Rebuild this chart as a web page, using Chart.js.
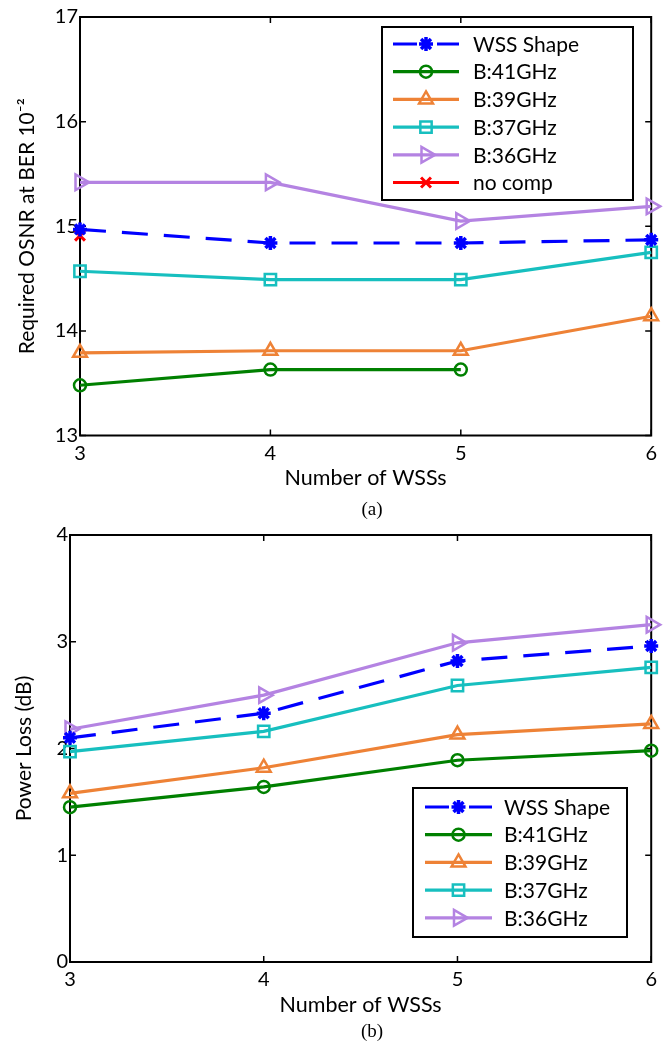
<!DOCTYPE html>
<html><head><meta charset="utf-8">
<script src="https://cdn.jsdelivr.net/npm/chart.js@4.4.1/dist/chart.umd.min.js"></script>
<style>
html,body{margin:0;padding:0;background:#fff;}
#wrap{position:relative;width:663px;height:1044px;overflow:hidden;}
canvas{position:absolute;left:0;}
.cap{position:absolute;font-family:"Liberation Serif","Times New Roman",serif;font-size:19px;color:#000;transform:translateX(-50%);line-height:1;}
</style></head><body>
<div id="wrap">
<canvas id="c1" width="663" height="520" style="top:0"></canvas>
<canvas id="c2" width="663" height="524" style="top:520px"></canvas>
<div class="cap" style="left:372px;top:499px">(a)</div>
<div class="cap" style="left:372px;top:1021px">(b)</div>
</div>
<script>
// ---------- data ----------
const wssCounts = ['3', '4', '5', '6'];
const seriesNames = ['WSS Shape', 'B:41GHz', 'B:39GHz', 'B:37GHz', 'B:36GHz', 'no comp'];

const osnrYTicks = [13, 14, 15, 16, 17];
const osnrWssShape = [14.97, 14.84, 14.84, 14.87];
const osnrB41 = [13.48, 13.63, 13.63, null];
const osnrB39 = [13.79, 13.81, 13.81, 14.14];
const osnrB37 = [14.57, 14.49, 14.49, 14.75];
const osnrB36 = [15.42, 15.42, 15.05, 15.19];
const osnrNoComp = [14.91, null, null, null];

const lossYTicks = [0, 1, 2, 3, 4];
const lossWssShape = [2.10, 2.33, 2.82, 2.96];
const lossB41 = [1.45, 1.64, 1.89, 1.98];
const lossB39 = [1.58, 1.82, 2.13, 2.23];
const lossB37 = [1.97, 2.16, 2.59, 2.76];
const lossB36 = [2.18, 2.50, 2.99, 3.16];

// ---------- styles ----------
const FONT = 'Lato, "Open Sans", sans-serif';
const seriesStyle = {
  'WSS Shape': {color: '#0000FF', pointStyle: 'star', radius: 7, rotation: 0, dash: [26, 16], pw: 3.5},
  'B:41GHz':   {color: '#008000', pointStyle: 'circle', radius: 6, rotation: 0, dash: [], pw: 2.5},
  'B:39GHz':   {color: '#EE8236', pointStyle: 'triangle', radius: 8, rotation: 0, dash: [], pw: 2.5},
  'B:37GHz':   {color: '#17BFBF', pointStyle: 'rect', radius: 8, rotation: 0, dash: [], pw: 2.5},
  'B:36GHz':   {color: '#B483E2', pointStyle: 'triangle', radius: 9, rotation: 90, dash: [], pw: 2.5},
  'no comp':   {color: '#FF0000', pointStyle: 'crossRot', radius: 7, rotation: 0, dash: [], pw: 3}
};

function makeDataset(name, values) {
  const s = seriesStyle[name];
  return {
    label: name, data: values,
    borderColor: s.color, backgroundColor: 'rgba(0,0,0,0)',
    borderWidth: 3.2, borderDash: s.dash,
    pointStyle: s.pointStyle, pointRadius: s.radius, pointRotation: s.rotation,
    pointBorderWidth: s.pw,
    pointBorderColor: s.color, pointBackgroundColor: 'rgba(0,0,0,0)',
    pointHoverRadius: s.radius,
    tension: 0, spanGaps: false, clip: false, fill: false
  };
}

// frame + inward ticks
const framePlugin = {
  id: 'frame',
  beforeDatasetsDraw(chart) {
    const {ctx, chartArea: a, scales} = chart;
    ctx.save();
    ctx.strokeStyle = '#000';
    ctx.lineWidth = 2;
    ctx.setLineDash([]);
    ctx.strokeRect(a.left, a.top, a.right - a.left, a.bottom - a.top);
    ctx.lineWidth = 1.5;
    const L = 6;
    ctx.beginPath();
    scales.x.ticks.forEach((t, i) => {
      const px = scales.x.getPixelForTick(i);
      ctx.moveTo(px, a.bottom); ctx.lineTo(px, a.bottom - L);
      ctx.moveTo(px, a.top); ctx.lineTo(px, a.top + L);
    });
    scales.y.ticks.forEach(t => {
      const py = scales.y.getPixelForValue(t.value);
      ctx.moveTo(a.left, py); ctx.lineTo(a.left + L, py);
      ctx.moveTo(a.right, py); ctx.lineTo(a.right - L, py);
    });
    ctx.stroke();
    ctx.restore();
  }
};

// legend inside plot
const boxLegend = {
  id: 'boxLegend',
  afterDatasetsDraw(chart, args, o) {
    const ctx = chart.ctx;
    ctx.save();
    ctx.fillStyle = '#fff';
    ctx.fillRect(o.x, o.y, o.w, o.h);
    ctx.strokeStyle = '#000';
    ctx.lineWidth = 2;
    ctx.setLineDash([]);
    ctx.strokeRect(o.x, o.y, o.w, o.h);
    chart.data.datasets.forEach((ds, i) => {
      const y = o.row0 + i * o.gap;
      ctx.strokeStyle = ds.borderColor;
      ctx.lineWidth = 3.2;
      ctx.setLineDash(ds.borderDash && ds.borderDash.length ? [24, 20] : []);
      ctx.beginPath();
      ctx.moveTo(o.lx0, y); ctx.lineTo(o.lx1, y);
      ctx.stroke();
      ctx.setLineDash([]);
      ctx.lineWidth = ds.pointBorderWidth;
      ctx.strokeStyle = ds.pointBorderColor;
      ctx.fillStyle = 'rgba(0,0,0,0)';
      Chart.helpers.drawPoint(ctx, {pointStyle: ds.pointStyle, rotation: ds.pointRotation, radius: ds.pointRadius, borderWidth: ds.pointBorderWidth}, (o.lx0 + o.lx1) / 2, y);
      ctx.fillStyle = '#000';
      ctx.font = o.fontSize + 'px ' + FONT;
      ctx.textBaseline = 'middle';
      ctx.textAlign = 'left';
      ctx.fillText(ds.label, o.tx, y + 1);
    });
    ctx.restore();
  }
};

function buildChart(id, cfg) {
  const tickFont = {family: FONT, size: 20};
  const xTitleFont = {family: FONT, size: 21.5};
  const yTitleFont = {family: FONT, size: 21};
  return new Chart(document.getElementById(id), {
    type: 'line',
    data: {labels: wssCounts, datasets: cfg.datasets},
    plugins: [framePlugin, boxLegend],
    options: {
      responsive: false, animation: false, events: [],
      layout: {padding: cfg.padding},
      plugins: {legend: {display: false}, tooltip: {enabled: false}, boxLegend: cfg.legend},
      scales: {
        x: {
          type: 'category', offset: false,
          grid: {display: false, drawTicks: false}, border: {display: false},
          ticks: {color: '#000', font: tickFont, padding: cfg.xPad, maxRotation: 0, autoSkip: false},
          title: {display: true, text: 'Number of WSSs', color: '#000', font: xTitleFont, padding: {top: 0, bottom: 0}},
          afterFit: s => { s.height = cfg.xHeight; }
        },
        y: {
          min: cfg.yTicks[0], max: cfg.yTicks[cfg.yTicks.length - 1],
          grid: {display: false, drawTicks: false}, border: {display: false},
          afterBuildTicks: s => { s.ticks = cfg.yTicks.map(v => ({value: v})); },
          ticks: {color: '#000', font: tickFont, padding: 2},
          title: {display: true, text: cfg.yTitle, color: '#000', font: yTitleFont, padding: {top: cfg.yTitlePad, bottom: 0}},
          afterFit: s => { s.width = cfg.yWidth; }
        }
      }
    }
  });
}

buildChart('c1', {
  datasets: [
    makeDataset(seriesNames[0], osnrWssShape),
    makeDataset(seriesNames[1], osnrB41),
    makeDataset(seriesNames[2], osnrB39),
    makeDataset(seriesNames[3], osnrB37),
    makeDataset(seriesNames[4], osnrB36),
    makeDataset(seriesNames[5], osnrNoComp)
  ],
  yTicks: osnrYTicks,
  yTitle: 'Required OSNR at BER 10\u207B\u00B2',
  padding: {left: 0, top: 17, right: 11, bottom: 29},
  xHeight: 55.5, xPad: 6, yWidth: 80, yTitlePad: 14.4,
  legend: {x: 382, y: 27, w: 251, h: 173, row0: 44, gap: 27.7, lx0: 393, lx1: 459, tx: 473, fontSize: 21}
});

buildChart('c2', {
  datasets: [
    makeDataset(seriesNames[0], lossWssShape),
    makeDataset(seriesNames[1], lossB41),
    makeDataset(seriesNames[2], lossB39),
    makeDataset(seriesNames[3], lossB37),
    makeDataset(seriesNames[4], lossB36)
  ],
  yTicks: lossYTicks,
  yTitle: 'Power Loss (dB)',
  padding: {left: 0, top: 15, right: 10, bottom: 26},
  xHeight: 56, xPad: 6, yWidth: 70, yTitlePad: 11.4,
  legend: {x: 413, y: 268, w: 214, h: 149, row0: 287, gap: 27.7, lx0: 425, lx1: 492, tx: 504, fontSize: 21}
});
</script>
</body></html>
